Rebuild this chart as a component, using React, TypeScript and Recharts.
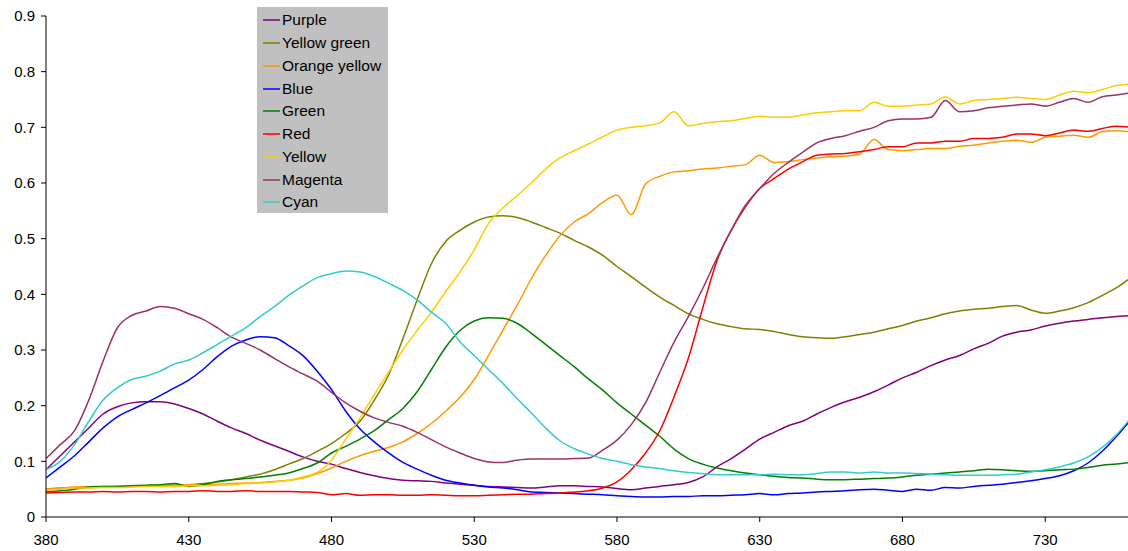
import * as React from 'react';
import { Legend, Line, LineChart, XAxis, YAxis } from 'recharts';

// wavelength in nm, 5 nm steps
const wavelengths = Array.from({ length: 77 }, (_, i) => 380 + i * 5);

const purple = [
  0.085, 0.11, 0.135, 0.16, 0.185, 0.198, 0.205, 0.207, 0.207, 0.203,
  0.195, 0.185, 0.172, 0.16, 0.15, 0.138, 0.128, 0.118, 0.108, 0.1,
  0.095, 0.087, 0.08, 0.074, 0.069, 0.066, 0.065, 0.064, 0.061, 0.059,
  0.057, 0.055, 0.054, 0.053, 0.052, 0.054, 0.056, 0.056, 0.055, 0.054,
  0.051, 0.049, 0.052, 0.055, 0.058, 0.062, 0.072, 0.09, 0.105, 0.122,
  0.14, 0.152, 0.164, 0.172, 0.185, 0.197, 0.207, 0.215, 0.225, 0.237,
  0.25, 0.26, 0.272, 0.282, 0.29, 0.302, 0.312, 0.325, 0.332, 0.336,
  0.343, 0.348, 0.352, 0.355, 0.358, 0.36, 0.362,
];

const yellowGreen = [
  0.05, 0.052, 0.053, 0.053, 0.054, 0.055, 0.055, 0.056, 0.057, 0.057,
  0.058, 0.06, 0.063, 0.067, 0.072, 0.077, 0.085, 0.095, 0.105, 0.118,
  0.132, 0.15, 0.172, 0.21, 0.255, 0.32, 0.39, 0.455, 0.495, 0.515,
  0.53, 0.539, 0.541, 0.538, 0.53, 0.52, 0.51, 0.497, 0.485, 0.47,
  0.45, 0.432, 0.413, 0.395, 0.38, 0.365, 0.355, 0.347, 0.342, 0.338,
  0.337, 0.333, 0.328, 0.324, 0.322, 0.321, 0.324, 0.328, 0.332, 0.338,
  0.344, 0.352, 0.358, 0.365, 0.37, 0.373, 0.375, 0.378, 0.38, 0.372,
  0.366, 0.37, 0.376, 0.385, 0.398, 0.412, 0.43,
];

const orangeYellow = [
  0.05, 0.052, 0.054, 0.055, 0.055, 0.055, 0.056, 0.056, 0.056, 0.057,
  0.058, 0.058, 0.059, 0.06, 0.061, 0.062, 0.064, 0.066, 0.07, 0.078,
  0.088, 0.1, 0.11, 0.118, 0.125, 0.135, 0.15, 0.168, 0.19, 0.215,
  0.247, 0.29, 0.335, 0.38, 0.428, 0.47, 0.505, 0.53, 0.545, 0.565,
  0.578, 0.543, 0.598, 0.612, 0.62, 0.622, 0.625, 0.627, 0.63, 0.633,
  0.65, 0.637, 0.638, 0.642, 0.645, 0.647, 0.648, 0.652, 0.678, 0.66,
  0.658, 0.66, 0.662, 0.662, 0.666, 0.668, 0.672, 0.675, 0.677, 0.673,
  0.682, 0.684, 0.686, 0.682, 0.692, 0.694, 0.692,
];

const blue = [
  0.07, 0.09, 0.11, 0.135, 0.16, 0.18, 0.193, 0.205, 0.218, 0.232,
  0.246, 0.265, 0.288, 0.307, 0.318, 0.324, 0.322, 0.308, 0.29, 0.262,
  0.229, 0.19, 0.158, 0.135, 0.115, 0.098, 0.086, 0.075, 0.066, 0.061,
  0.057, 0.054, 0.052, 0.049, 0.045, 0.044, 0.043, 0.042, 0.041, 0.04,
  0.038, 0.037, 0.036, 0.036, 0.037, 0.037, 0.038, 0.038, 0.039, 0.04,
  0.042, 0.04, 0.042, 0.043, 0.045, 0.046, 0.047, 0.049, 0.05, 0.048,
  0.046, 0.05, 0.048, 0.053, 0.052, 0.055, 0.057, 0.059, 0.062, 0.065,
  0.069, 0.074, 0.083, 0.097, 0.118, 0.145, 0.175,
];

const green = [
  0.045, 0.047, 0.05, 0.054, 0.055, 0.055, 0.056, 0.057, 0.058, 0.06,
  0.055, 0.058, 0.064, 0.067, 0.069, 0.072, 0.075, 0.079, 0.087, 0.097,
  0.115, 0.127, 0.14, 0.155, 0.175, 0.195, 0.225, 0.265, 0.305, 0.335,
  0.352, 0.358, 0.357, 0.348, 0.33, 0.31, 0.29, 0.27, 0.248, 0.228,
  0.205, 0.185, 0.165, 0.145, 0.122, 0.105, 0.095, 0.088, 0.083, 0.079,
  0.076, 0.073, 0.071, 0.07, 0.068, 0.067, 0.067, 0.068, 0.069, 0.07,
  0.072, 0.075, 0.077, 0.079, 0.081, 0.083, 0.086, 0.085, 0.083, 0.082,
  0.083, 0.085, 0.086, 0.089, 0.093, 0.095, 0.098,
];

const red = [
  0.043, 0.044, 0.045, 0.045, 0.046, 0.045, 0.046, 0.046, 0.045, 0.046,
  0.046, 0.047, 0.046, 0.046, 0.047, 0.046, 0.046, 0.046, 0.045, 0.044,
  0.04, 0.042, 0.039, 0.04, 0.04, 0.039, 0.039, 0.04, 0.039, 0.038,
  0.038, 0.039, 0.04, 0.041, 0.041, 0.042, 0.043, 0.045, 0.047, 0.052,
  0.063, 0.085, 0.115, 0.155, 0.216, 0.285, 0.375, 0.46, 0.515, 0.557,
  0.59, 0.608, 0.625, 0.638, 0.65, 0.652, 0.653, 0.656, 0.66, 0.665,
  0.665, 0.672, 0.672, 0.675, 0.675, 0.68, 0.68, 0.682, 0.688, 0.688,
  0.685, 0.69, 0.695, 0.693, 0.698, 0.702, 0.7,
];

const yellow = [
  0.048, 0.05, 0.052, 0.052, 0.053, 0.053, 0.054, 0.055, 0.055, 0.055,
  0.056, 0.056, 0.057, 0.058, 0.06, 0.061, 0.063, 0.066, 0.072, 0.08,
  0.102, 0.14, 0.178, 0.22, 0.26, 0.3, 0.335, 0.368, 0.405, 0.44,
  0.48, 0.527, 0.555, 0.577, 0.6, 0.625, 0.645, 0.658, 0.67, 0.683,
  0.695, 0.7, 0.703, 0.708, 0.728, 0.703, 0.707, 0.71, 0.712, 0.716,
  0.72, 0.718, 0.718, 0.722, 0.726, 0.728, 0.73, 0.73, 0.745, 0.738,
  0.738, 0.74, 0.742, 0.755, 0.742, 0.748, 0.75, 0.752, 0.754, 0.752,
  0.75, 0.758, 0.765, 0.762, 0.768, 0.775, 0.778,
];

const magenta = [
  0.105, 0.13, 0.155, 0.21, 0.28, 0.34, 0.362, 0.37, 0.378, 0.375,
  0.365, 0.355, 0.34, 0.323, 0.312, 0.3, 0.285, 0.27, 0.257, 0.244,
  0.224, 0.205, 0.19, 0.178, 0.17, 0.163, 0.152, 0.139, 0.126, 0.115,
  0.105, 0.099, 0.098, 0.102, 0.104, 0.104, 0.104, 0.105, 0.106, 0.12,
  0.138, 0.166, 0.205, 0.26, 0.314, 0.36, 0.41, 0.465, 0.515, 0.56,
  0.59, 0.617, 0.637, 0.655, 0.672, 0.68, 0.685, 0.693, 0.7, 0.712,
  0.715, 0.715, 0.718, 0.748, 0.728, 0.73, 0.735, 0.738, 0.74, 0.742,
  0.738, 0.745, 0.752, 0.745, 0.755, 0.758, 0.762,
];

const cyan = [
  0.085, 0.1, 0.13, 0.172, 0.21, 0.232, 0.247, 0.253, 0.262, 0.275,
  0.282, 0.295, 0.31, 0.325, 0.34, 0.36, 0.378, 0.398, 0.415, 0.43,
  0.437, 0.442, 0.44, 0.432, 0.42, 0.407, 0.39, 0.368, 0.348, 0.315,
  0.29, 0.265, 0.24, 0.213, 0.187, 0.16, 0.137, 0.123, 0.113, 0.105,
  0.1, 0.094, 0.09, 0.087, 0.083, 0.08, 0.078, 0.076, 0.076, 0.076,
  0.076, 0.077, 0.076, 0.076, 0.078, 0.081, 0.081, 0.079, 0.081, 0.079,
  0.079, 0.078, 0.077, 0.076, 0.075, 0.075, 0.075, 0.076, 0.077, 0.081,
  0.085, 0.09, 0.097, 0.108, 0.125, 0.148, 0.178,
];

const xTicks = [380, 430, 480, 530, 580, 630, 680, 730];
const yTicks = [0, 0.1, 0.2, 0.3, 0.4, 0.5, 0.6, 0.7, 0.8, 0.9];

const seriesList = [
  { key: 'purple', name: 'Purple', color: '#800080', values: purple },
  { key: 'yellowGreen', name: 'Yellow green', color: '#808000', values: yellowGreen },
  { key: 'orangeYellow', name: 'Orange yellow', color: '#FF9900', values: orangeYellow },
  { key: 'blue', name: 'Blue', color: '#0000FF', values: blue },
  { key: 'green', name: 'Green', color: '#008000', values: green },
  { key: 'red', name: 'Red', color: '#FF0000', values: red },
  { key: 'yellow', name: 'Yellow', color: '#FFCC00', values: yellow },
  { key: 'magenta', name: 'Magenta', color: '#993366', values: magenta },
  { key: 'cyan', name: 'Cyan', color: '#33CCCC', values: cyan },
];

const chartData = wavelengths.map((w, i) => {
  const row: Record<string, number> = { w };
  seriesList.forEach((s) => {
    row[s.key] = s.values[i];
  });
  return row;
});

const FONT = '"Liberation Sans", Arial, sans-serif';

// legend keeps the series order (recharts would sort it)
const LegendBox = () => (
  <div
    style={{
      background: '#C0C0C0',
      width: 131,
      height: 206,
      boxSizing: 'border-box',
      paddingTop: 2,
      fontFamily: FONT,
      fontSize: 15.5,
      color: '#000',
    }}
  >
    {seriesList.map((s) => (
      <div key={s.key} style={{ display: 'flex', alignItems: 'center', height: 22.75 }}>
        <svg width={17} height={4} style={{ marginLeft: 6, marginRight: 2 }}>
          <line x1={0} y1={2} x2={17} y2={2} stroke={s.color} strokeWidth={1.5} />
        </svg>
        <span>{s.name}</span>
      </div>
    ))}
  </div>
);

export default function App() {
  return (
    <div style={{ position: 'absolute', left: 0, top: 0, width: 1128, height: 551, background: '#fff' }}>
      <LineChart
        width={1128}
        height={551}
        data={chartData}
        margin={{ top: 16, right: 0, bottom: 0, left: 0 }}
      >
        <XAxis
          dataKey="w"
          type="number"
          domain={[380, 759]}
          allowDataOverflow
          ticks={xTicks}
          height={34}
          stroke="#000"
          tickSize={5}
          tickMargin={12}
          tick={{ fill: '#000', fontSize: 15, fontFamily: FONT }}
        />
        <YAxis
          type="number"
          domain={[0, 0.9]}
          ticks={yTicks}
          width={46}
          stroke="#000"
          tickSize={5}
          tickMargin={6}
          tick={{ fill: '#000', fontSize: 15, fontFamily: FONT }}
          tickFormatter={(v: number) => String(v)}
        />
        <Legend
          layout="vertical"
          align="center"
          verticalAlign="middle"
          content={<LegendBox />}
          wrapperStyle={{ left: 257, top: 7, width: 131, height: 206 }}
        />
        {seriesList.map((s) => (
          <Line
            key={s.key}
            dataKey={s.key}
            name={s.name}
            type="monotone"
            stroke={s.color}
            strokeWidth={1.5}
            dot={false}
            isAnimationActive={false}
          />
        ))}
      </LineChart>
    </div>
  );
}
